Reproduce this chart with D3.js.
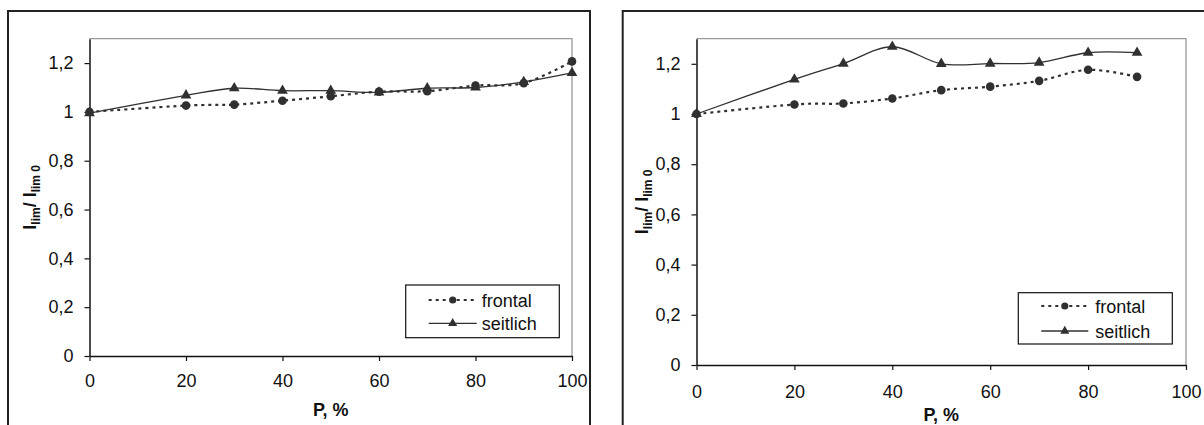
<!DOCTYPE html>
<html>
<head>
<meta charset="utf-8">
<script src="https://cdn.jsdelivr.net/npm/d3@7"></script>
<style>
  html, body { margin: 0; padding: 0; background: #fff; }
  svg { display: block; font-family: "Liberation Sans", Arial, sans-serif; }
</style>
</head>
<body>
<svg id="chart" width="1204" height="425"></svg>
<script>
// ---- data ----
const xTicks = [0, 20, 40, 60, 80, 100];
const yTicks = [0, 0.2, 0.4, 0.6, 0.8, 1, 1.2];
const yTickLabels = ["0", "0,2", "0,4", "0,6", "0,8", "1", "1,2"];
const seriesNames = ["frontal", "seitlich"];

const leftP = [0, 20, 30, 40, 50, 60, 70, 80, 90, 100];
const leftFrontal = [1.0, 1.026, 1.03, 1.046, 1.064, 1.083, 1.085, 1.108, 1.118, 1.207];
const leftSeitlich = [0.995, 1.068, 1.097, 1.087, 1.087, 1.08, 1.097, 1.1, 1.123, 1.16];

const rightP = [0, 20, 30, 40, 50, 60, 70, 80, 90];
const rightFrontal = [1.0, 1.038, 1.042, 1.062, 1.095, 1.109, 1.132, 1.176, 1.148];
const rightSeitlich = [1.0, 1.138, 1.201, 1.268, 1.2, 1.201, 1.205, 1.244, 1.244];

const svg = d3.select("#chart");
const ink = "#303030";
const FS = 18;

function drawChart(cfg) {
  const g = svg.append("g");
  g.append("rect")
    .attr("x", cfg.frame[0]).attr("y", cfg.frame[1])
    .attr("width", cfg.frame[2]).attr("height", cfg.frame[3])
    .attr("fill", "none").attr("stroke", "#222").attr("stroke-width", 2);

  const x = d3.scaleLinear().domain([0, 100]).range([cfg.left, cfg.right]);
  const y = d3.scaleLinear().domain([0, 1.3]).range([cfg.bottom, cfg.top]);

  g.append("path")
    .attr("d", `M${cfg.left},${cfg.top}H${cfg.right}V${cfg.bottom}`)
    .attr("fill", "none").attr("stroke", "#9a9a9a").attr("stroke-width", 1.3);

  const xAxis = d3.axisBottom(x).tickValues(xTicks).tickSize(5).tickSizeOuter(0).tickPadding(cfg.xPad);
  const yAxis = d3.axisLeft(y).tickValues(yTicks).tickSize(5).tickSizeOuter(0).tickPadding(11)
    .tickFormat((d, i) => yTickLabels[i]);

  const gx = g.append("g").attr("transform", `translate(0,${cfg.bottom})`).call(xAxis);
  const gy = g.append("g").attr("transform", `translate(${cfg.left},0)`).call(yAxis);
  [gx, gy].forEach(a => {
    a.attr("font-size", FS).attr("font-family", "'Liberation Sans', Arial, sans-serif");
    a.selectAll("path.domain").attr("stroke", "#111").attr("stroke-width", 1.5);
    a.selectAll("line").attr("stroke", "#111").attr("stroke-width", 1.2);
    a.selectAll("text").attr("fill", "#111");
  });

  g.append("text")
    .attr("x", (cfg.left + cfg.right) / 2).attr("y", cfg.xTitleY)
    .attr("text-anchor", "middle").attr("font-weight", "bold").attr("font-size", FS)
    .attr("fill", "#111").text("P, %");

  const yt = g.append("text")
    .attr("transform", `translate(${cfg.yTitleX},${(cfg.top + cfg.bottom) / 2}) rotate(-90)`)
    .attr("text-anchor", "middle").attr("font-weight", "bold").attr("font-size", FS)
    .attr("fill", "#111");
  yt.append("tspan").text("I");
  yt.append("tspan").attr("font-size", 12).attr("dy", 4).text("lim");
  yt.append("tspan").attr("dy", -4).text("/ I");
  yt.append("tspan").attr("font-size", 12).attr("dy", 4).text("lim 0");

  const line = d3.line().x(d => x(d[0])).y(d => y(d[1])).curve(d3.curveCatmullRom.alpha(0));
  const fr = cfg.p.map((p, i) => [p, cfg.frontal[i]]);
  const se = cfg.p.map((p, i) => [p, cfg.seitlich[i]]);

  g.append("path").datum(fr).attr("d", line)
    .attr("fill", "none").attr("stroke", ink).attr("stroke-width", 2.2)
    .attr("stroke-dasharray", "3,4");
  g.append("path").datum(se).attr("d", line)
    .attr("fill", "none").attr("stroke", ink).attr("stroke-width", 1.3);

  const tri = d3.symbol().type(d3.symbolTriangle).size(50);
  g.selectAll(".tri").data(se).join("path")
    .attr("transform", d => `translate(${x(d[0])},${y(d[1])})`)
    .attr("d", tri).attr("fill", ink);
  g.selectAll(".dot").data(fr).join("circle")
    .attr("cx", d => x(d[0])).attr("cy", d => y(d[1])).attr("r", 4.3).attr("fill", ink);

  const L = cfg.legend;
  g.append("rect").attr("x", L.x).attr("y", L.y).attr("width", L.w).attr("height", L.h)
    .attr("fill", "#fff").attr("stroke", "#111").attr("stroke-width", 1.2);
  const rows = [
    { name: seriesNames[0], dash: "3,4", sw: 2.2, mark: "dot" },
    { name: seriesNames[1], dash: null, sw: 1.3, mark: "tri" }
  ];
  rows.forEach((r, i) => {
    const ry = L.y + L.row0 + i * L.rowGap;
    g.append("line").attr("x1", L.x + L.l0).attr("x2", L.x + L.l1)
      .attr("y1", ry).attr("y2", ry).attr("stroke", ink).attr("stroke-width", r.sw)
      .attr("stroke-dasharray", r.dash);
    const mx = L.x + (L.l0 + L.l1) / 2;
    if (r.mark === "dot") {
      g.append("circle").attr("cx", mx).attr("cy", ry).attr("r", 3.6).attr("fill", ink);
    } else {
      g.append("path").attr("transform", `translate(${mx},${ry})`)
        .attr("d", d3.symbol().type(d3.symbolTriangle).size(36)).attr("fill", ink);
    }
    g.append("text").attr("x", L.x + L.tx).attr("y", ry + 6.5)
      .attr("font-size", FS).attr("fill", "#111").text(r.name);
  });
}

drawChart({
  frame: [8, 11, 582, 440],
  left: 89.5, right: 572, top: 38.7, bottom: 356,
  xPad: 13, xTitleY: 416, yTitleX: 36,
  p: leftP, frontal: leftFrontal, seitlich: leftSeitlich,
  legend: { x: 405.7, y: 285, w: 153.6, h: 52.7, row0: 15, rowGap: 23.3, l0: 23, l1: 71, tx: 76 }
});

drawChart({
  frame: [622.7, 11, 600, 440],
  left: 696.5, right: 1186, top: 38.7, bottom: 365,
  xPad: 15, xTitleY: 421, yTitleX: 648,
  p: rightP, frontal: rightFrontal, seitlich: rightSeitlich,
  legend: { x: 1018.3, y: 292.7, w: 154, h: 51.3, row0: 13.3, rowGap: 25, l0: 23, l1: 70, tx: 77 }
});
</script>
</body>
</html>
